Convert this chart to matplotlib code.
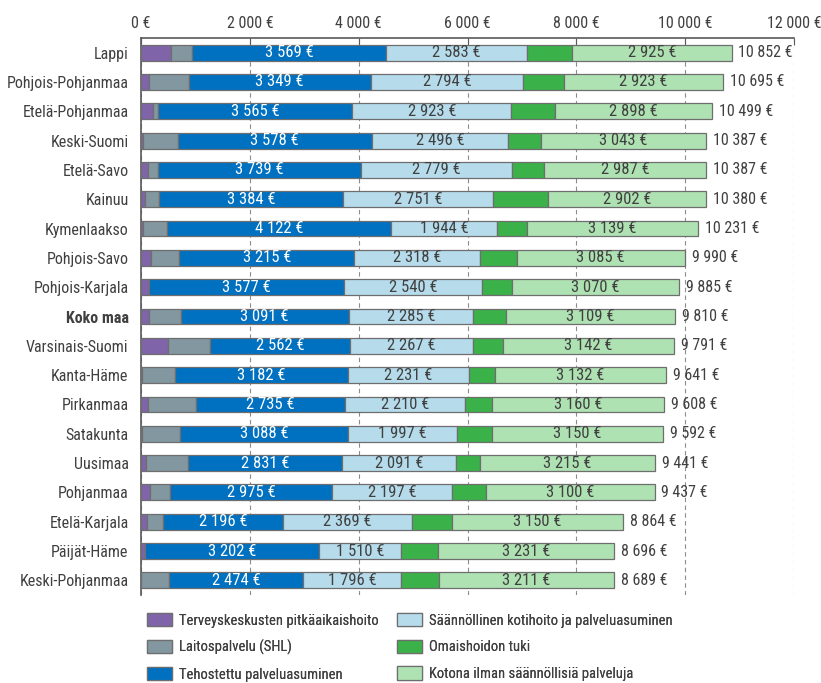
import numpy as np
import matplotlib.pyplot as plt

plt.rcParams['font.family'] = ['Roboto Condensed', 'Liberation Sans', 'DejaVu Sans']

# Kustannukset alueittain (€ / asukas), järjestys ylhäältä alas
alueet = ['Lappi', 'Pohjois-Pohjanmaa', 'Etelä-Pohjanmaa', 'Keski-Suomi', 'Etelä-Savo',
          'Kainuu', 'Kymenlaakso', 'Pohjois-Savo', 'Pohjois-Karjala', 'Koko maa',
          'Varsinais-Suomi', 'Kanta-Häme', 'Pirkanmaa', 'Satakunta', 'Uusimaa',
          'Pohjanmaa', 'Etelä-Karjala', 'Päijät-Häme', 'Keski-Pohjanmaa']

pitkaaikaishoito = [550, 140, 220, 35, 120, 70, 35, 190, 140, 145,
                    496, 20, 130, 10, 92, 165, 110, 66, 0]
laitospalvelu = [385, 735, 100, 636, 184, 263, 440, 514, 10, 581,
                 778, 600, 882, 706, 772, 374, 300, 0, 508]
tehostettu = [3569, 3349, 3565, 3578, 3739, 3384, 4122, 3215, 3577, 3091,
              2562, 3182, 2735, 3088, 2831, 2975, 2196, 3202, 2474]
kotihoito = [2583, 2794, 2923, 2496, 2779, 2751, 1944, 2318, 2540, 2285,
             2267, 2231, 2210, 1997, 2091, 2197, 2369, 1510, 1796]
omaishoito = [840, 754, 793, 599, 578, 1010, 551, 668, 548, 599,
              546, 476, 491, 641, 440, 626, 739, 687, 700]
kotona = [2925, 2923, 2898, 3043, 2987, 2902, 3139, 3085, 3070, 3109,
          3142, 3132, 3160, 3150, 3215, 3100, 3150, 3231, 3211]
yhteensa = [10852, 10695, 10499, 10387, 10387, 10380, 10231, 9990, 9885, 9810,
            9791, 9641, 9608, 9592, 9441, 9437, 8864, 8696, 8689]

sarjat = [
    ('Terveyskeskusten pitkäaikaishoito', pitkaaikaishoito, '#8064a9', None),
    ('Laitospalvelu (SHL)', laitospalvelu, '#82979f', None),
    ('Tehostettu palveluasuminen', tehostettu, '#0070c0', 'white'),
    ('Säännöllinen kotihoito ja palveluasuminen', kotihoito, '#b6dcec', '#404040'),
    ('Omaishoidon tuki', omaishoito, '#3bb14a', None),
    ('Kotona ilman säännöllisiä palveluja', kotona, '#afe2b2', '#404040'),
]

FS = 11.5
FS_ARVO = 12
FS_SELITE = 10.5
TEKSTI = '#404040'


def euro(v):
    return f'{v:,.0f}'.replace(',', ' ') + ' €'


fig = plt.figure(figsize=(8.21, 6.83), dpi=100)
ax = fig.add_axes([141 / 821, 1 - 595 / 683, 653 / 821, 557 / 683])

y = np.arange(len(alueet))
vasen = np.zeros(len(alueet))
kahvat = []
for nimi, arvot, vari, tekstivari in sarjat:
    arvot = np.array(arvot, dtype=float)
    b = ax.barh(y, arvot, left=vasen, height=0.54, color=vari,
                edgecolor='#6e6e6e', linewidth=0.9, label=nimi, zorder=3)
    kahvat.append(b)
    if tekstivari:
        for yi, l, v in zip(y, vasen, arvot):
            ax.text(l + v / 2, yi, euro(v), ha='center', va='center',
                    color=tekstivari, fontsize=FS_ARVO, zorder=4)
    vasen += arvot

for yi, t in zip(y, yhteensa):
    ax.annotate(euro(t), (t, yi), xytext=(5, 0), textcoords='offset points',
                ha='left', va='center', fontsize=FS, color=TEKSTI)

ax.set_xlim(0, 12000)
ax.set_ylim(len(alueet) - 0.5, -0.5)
ax.set_xticks(np.arange(0, 12001, 2000))
ax.set_xticklabels([euro(v) for v in range(0, 12001, 2000)])
ax.xaxis.tick_top()
ax.tick_params(axis='x', direction='in', length=5, color='#595959',
               labelsize=FS, labelcolor=TEKSTI, pad=5)
ax.set_yticks(y)
ax.set_yticklabels(alueet)
ax.tick_params(axis='y', length=0, labelsize=FS, labelcolor=TEKSTI, pad=9)
for lbl in ax.get_yticklabels():
    if lbl.get_text() == 'Koko maa':
        lbl.set_fontweight('bold')

ax.grid(axis='x', linestyle=(0, (4, 3)), color='#8c8c8c', linewidth=0.8, zorder=0)
ax.set_axisbelow(True)
for s in ['right', 'bottom']:
    ax.spines[s].set_visible(False)
for s in ['top', 'left']:
    ax.spines[s].set_color('#595959')
    ax.spines[s].set_linewidth(1.2)

# Selite kahdessa sarakkeessa
for kohta, osa in [(147, kahvat[:3]), (397, kahvat[3:])]:
    leg = fig.legend(handles=osa, loc='upper left',
                     bbox_to_anchor=(kohta / 821, 1 - 613 / 683),
                     frameon=False, fontsize=FS_SELITE, handlelength=1.71,
                     handleheight=1.03, labelspacing=0.82, handletextpad=0.48,
                     borderpad=0, borderaxespad=0, labelcolor=TEKSTI)
    fig.add_artist(leg)

fig.savefig('out.png', dpi=100)
